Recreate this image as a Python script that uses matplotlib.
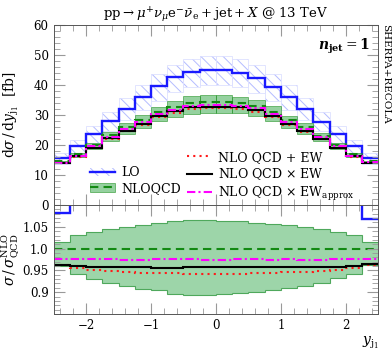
import numpy as np
import matplotlib
matplotlib.use("Agg")
from matplotlib import pyplot as plt
from matplotlib.patches import Patch
from matplotlib.lines import Line2D

plt.rcParams['font.family'] = ['DejaVu Serif']
plt.rcParams['mathtext.fontset'] = 'dejavuserif'
plt.rcParams['hatch.linewidth'] = 0.7

# bins in y_j1
edges = np.linspace(-2.5, 2.5, 21)

lo = [15.7, 19.7, 23.7, 27.9, 32.1, 36.1, 39.5, 42.6, 44.3, 44.9,
      44.9, 44.0, 42.2, 39.4, 36.1, 32.0, 27.8, 23.7, 19.7, 15.6]
lo_up = [17.4, 21.8, 26.3, 31.0, 35.8, 40.0, 43.6, 46.8, 48.8, 49.8,
         49.8, 48.8, 46.6, 43.6, 40.0, 35.8, 31.0, 26.3, 21.8, 17.4]
lo_dn = [13.8, 17.2, 20.8, 24.6, 28.4, 31.8, 34.8, 37.6, 39.2, 40.0,
         40.0, 39.2, 37.4, 34.8, 31.8, 28.4, 24.6, 20.8, 17.2, 13.8]

nlo = [14.5, 16.9, 20.0, 23.2, 25.9, 28.3, 31.0, 32.6, 34.0, 34.3,
       34.3, 34.0, 33.0, 31.1, 28.2, 25.9, 23.1, 20.0, 16.9, 14.6]
nlo_up = [14.72, 17.41, 20.76, 24.22, 27.20, 29.86, 32.80, 34.65, 36.21, 36.53,
          36.50, 36.14, 34.91, 32.84, 29.75, 27.20, 24.14, 20.74, 17.41, 14.82]
nlo_dn = [13.92, 15.92, 18.60, 21.39, 23.65, 25.67, 28.06, 29.21, 30.40, 30.66,
          30.73, 30.50, 29.70, 28.15, 25.63, 23.67, 21.30, 18.64, 15.92, 14.05]

nlo_plus_ew = [13.95, 16.15, 19.02, 21.99, 24.51, 26.74, 29.26, 30.74, 32.05, 32.32,
               32.32, 32.04, 31.15, 29.36, 26.66, 24.49, 21.90, 19.03, 16.15, 14.04]
nlo_times_ew = [13.95, 16.22, 19.14, 22.20, 24.79, 27.08, 29.64, 31.17, 32.54, 32.83,
                32.83, 32.54, 31.58, 29.76, 26.99, 24.79, 22.11, 19.16, 16.21, 14.07]
nlo_times_ewapp = [14.14, 16.48, 19.50, 22.62, 25.25, 27.59, 30.23, 31.79, 33.15, 33.44,
                   33.44, 33.15, 32.18, 30.32, 27.50, 25.25, 22.52, 19.50, 16.48, 14.24]

c_lo = '#1a1aff'
c_hatch = '#b4bcff'
c_green = '#138a13'
c_band = '#4fb35f'
c_band_r = '#9dd5a9'
c_red = '#ff1a1a'
c_mag = '#ff00ff'

fig = plt.figure(figsize=(3.92, 3.5), dpi=100)
ax = fig.add_axes([0.1365, 0.4143, 0.829, 0.5143])
rx = fig.add_axes([0.1365, 0.1029, 0.829, 0.3114], sharex=ax)

# main panel
ax.stairs(lo_up, edges, baseline=lo_dn, fill=True, facecolor='none',
          edgecolor=c_hatch, hatch='\\\\\\', linewidth=0)
for i in range(len(lo)):
    ax.add_patch(plt.Rectangle((edges[i], lo_dn[i]), 0.25, lo_up[i] - lo_dn[i],
                               fill=False, edgecolor='#dde0ff', linewidth=0.6))
ax.stairs(lo, edges, color=c_lo, lw=1.7, baseline=None)
for i in range(len(nlo)):
    ax.add_patch(plt.Rectangle((edges[i], nlo_dn[i]), 0.25, nlo_up[i] - nlo_dn[i],
                               facecolor=c_band, alpha=0.6, edgecolor=c_green, linewidth=0.6))
ax.stairs(nlo, edges, color=c_green, lw=1.5, ls=(0, (4, 2.5)), baseline=None)
ax.stairs(nlo_plus_ew, edges, color=c_red, lw=1.5, ls=(0, (1, 2)), baseline=None)
ax.stairs(nlo_times_ew, edges, color='black', lw=1.5, baseline=None)
ax.stairs(nlo_times_ewapp, edges, color=c_mag, lw=1.5, ls=(0, (4, 1.5, 1, 1.5)), baseline=None)

ax.set_xlim(-2.5, 2.5)
ax.set_ylim(0, 60)
ax.set_yticks([0, 10, 20, 30, 40, 50, 60])
ax.set_yticks(np.arange(0, 61, 2), minor=True)
ax.set_ylabel(r'$\mathrm{d}\sigma\,/\,\mathrm{d}y_{\mathrm{j}_1}$  [fb]', fontsize=10)
ax.yaxis.set_label_coords(-0.1, 0.5)
ax.tick_params(labelbottom=False)
ax.set_title(r'$\mathrm{pp}\rightarrow\mu^{+}\nu_{\mu}\mathrm{e}^{-}\bar{\nu}_{\mathrm{e}}+\mathrm{jet}+X$ @ 13 TeV',
             fontsize=9.5, pad=5)
ax.text(0.975, 0.88, r'$\mathbfit{n}_{\mathbf{jet}}=\mathbf{1}$', transform=ax.transAxes,
        ha='right', va='center', fontsize=10)
fig.text(0.985, 0.93, 'SHERPA+RECOLA', rotation=-90, ha='center', va='top', fontsize=7.5)

blank = Line2D([], [], color='none')
h_lo = (Patch(facecolor='none', edgecolor=c_hatch, hatch='\\\\\\', linewidth=0),
        Line2D([], [], color=c_lo, lw=1.7))
h_nlo = (Patch(facecolor=c_band, alpha=0.6, edgecolor=c_green, linewidth=0.6),
         Line2D([], [], color=c_green, lw=1.5, ls=(0, (4, 2.5))))
h_red = Line2D([], [], color=c_red, lw=1.5, ls=(0, (1, 2)))
h_blk = Line2D([], [], color='black', lw=1.5)
h_mag = Line2D([], [], color=c_mag, lw=1.5, ls=(0, (4, 1.5, 1, 1.5)))
ax.legend([blank, h_lo, h_nlo, h_red, h_blk, h_mag],
          ['', 'LO', 'NLOQCD', 'NLO QCD + EW', r'NLO QCD $\times$ EW',
           r'NLO QCD $\times$ EW$_{\mathrm{approx}}$'],
          ncol=2, loc='lower left', bbox_to_anchor=(0.085, -0.035), frameon=False,
          fontsize=9, handlelength=2.0, handletextpad=0.5, columnspacing=0.5,
          labelspacing=0.2, borderpad=0.2)

# ratio panel
nlo_a = np.array(nlo)
rx.stairs(np.array(nlo_up) / nlo_a, edges, baseline=np.array(nlo_dn) / nlo_a, fill=True,
          facecolor=c_band_r, edgecolor='none')
rx.stairs(np.array(nlo_up) / nlo_a, edges, color='#4fa85c', lw=0.8, baseline=None)
rx.stairs(np.array(nlo_dn) / nlo_a, edges, color='#4fa85c', lw=0.8, baseline=None)
rx.stairs(np.array(lo) / nlo_a, edges, color=c_lo, lw=1.7, baseline=None)
rx.stairs(nlo_a / nlo_a, edges, color=c_green, lw=1.5, ls=(0, (4, 2.5)), baseline=None)
rx.stairs(np.array(nlo_plus_ew) / nlo_a, edges, color=c_red, lw=1.5, ls=(0, (1, 2)), baseline=None)
rx.stairs(np.array(nlo_times_ew) / nlo_a, edges, color='black', lw=1.5, baseline=None)
rx.stairs(np.array(nlo_times_ewapp) / nlo_a, edges, color=c_mag, lw=1.5,
          ls=(0, (4, 1.5, 1, 1.5)), baseline=None)

rx.set_ylim(0.85, 1.1)
rx.set_yticks([0.9, 0.95, 1.0, 1.05])
rx.set_yticklabels(['0.9', '0.95', '1.0', '1.05'])
rx.set_yticks(np.arange(0.85, 1.101, 0.01), minor=True)
rx.set_xticks([-2, -1, 0, 1, 2])
rx.set_xticks(np.arange(-2.4, 2.41, 0.2), minor=True)
rx.set_ylabel(r'$\sigma\,/\,\sigma^{\mathrm{NLO}}_{\mathrm{QCD}}$', fontsize=10)
rx.yaxis.set_label_coords(-0.1, 0.5)
rx.set_xlabel(r'$y_{\mathrm{j}_1}$', fontsize=10, loc='right', labelpad=2)

for a in (ax, rx):
    a.tick_params(which='both', direction='in', top=True, right=True, color='#999999',
                  labelsize=8.5)
    a.tick_params(which='major', length=8, width=0.8)
    a.tick_params(which='minor', length=4, width=0.6)
    for s in a.spines.values():
        s.set_color('#555555')
        s.set_linewidth(0.7)
ax.spines['bottom'].set_color('black')

fig.savefig('out.png', dpi=100)
